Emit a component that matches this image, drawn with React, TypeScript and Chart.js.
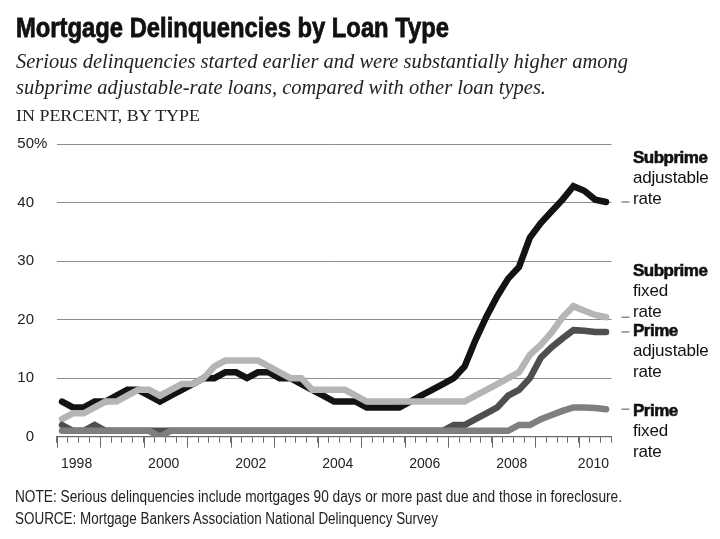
import React, { useEffect, useLayoutEffect, useRef } from 'react';
import { Chart, registerables } from 'chart.js';

Chart.register(...registerables);

// ---------- DATA ----------
const years = [1998, 1999, 2000, 2001, 2002, 2003, 2004, 2005, 2006, 2007, 2008, 2009, 2010];
const quarterNames = ['Q1', 'Q2', 'Q3', 'Q4'];
// 51 quarters: 1998 Q1 .. 2010 Q3
const quarterLabels = years.flatMap((y) => quarterNames.map((q) => `${y} ${q}`)).slice(0, 51);

const subprimeARM = [
  6, 5, 5, 6,
  6, 7, 8, 8,
  7, 6, 7, 8,
  9, 10, 10, 11,
  11, 10, 11, 11,
  10, 10, 9, 8,
  7, 6, 6, 6,
  5, 5, 5, 5,
  6, 7, 8, 9,
  10, 12, 16.5, 20.5,
  24, 27, 29, 34,
  36.5, 38.5, 40.5, 42.8,
  42, 40.5, 40.1,
];
const subprimeFixed = [
  3, 4, 4, 5,
  6, 6, 7, 8,
  8, 7, 8, 9,
  9, 10, 12, 13,
  13, 13, 13, 12,
  11, 10, 10, 8,
  8, 8, 8, 7,
  6, 6, 6, 6,
  6, 6, 6, 6,
  6, 6, 7, 8,
  9, 10, 11, 14,
  15.7, 17.8, 20.4, 22.3,
  21.5, 20.8, 20.4,
];
const primeARM = [
  2, 1, 1, 2,
  1, 1, 1, 1,
  1, 1, 1, 1,
  1, 1, 1, 1,
  1, 1, 1, 1,
  1, 1, 1, 1,
  1, 1, 1, 1,
  1, 1, 1, 1,
  1, 1, 1, 1,
  2, 2, 3, 4,
  5, 7, 8, 10,
  13.5, 15.3, 16.8, 18.2,
  18.1, 17.9, 17.9,
];
const primeFixed = [
  1, 1, 1, 1,
  1, 1, 1, 1,
  1, 0, 1, 1,
  1, 1, 1, 1,
  1, 1, 1, 1,
  1, 1, 1, 1,
  1, 1, 1, 1,
  1, 1, 1, 1,
  1, 1, 1, 1,
  1, 1, 1, 1,
  1, 1, 2, 2,
  3, 3.7, 4.4, 5,
  5, 4.9, 4.7,
];
const yTicks = [0, 10, 20, 30, 40, 50];
const yearLabels = ['1998', '2000', '2002', '2004', '2006', '2008', '2010'];

// ---------- STYLE ----------
const SANS = '"Liberation Sans", Arial, Helvetica, sans-serif';
const SERIF = '"Liberation Serif", "Times New Roman", serif';
const GRID = '#8c8c8c';
const AXIS = '#6a6a6a';
const LONG_TICK = 11;
const SHORT_TICK = 6;
const Y_PAD = 22.6;

const X_MIN = 1998;
const X_MAX = 2010.75;

function quarterToX(label: string): number {
  const [y, q] = label.split(' ');
  return Number(y) + (quarterNames.indexOf(q) + 0.5) / 4;
}

const labelTicks = yearLabels.map((t) => {
  const y = Number(t);
  const end = Math.min(y + 1, X_MAX);
  return { value: (y + end) / 2 - 0.04, text: t };
});
const isLabelTick = (v: number) => labelTicks.some((l) => Math.abs(l.value - v) < 1e-6);

function toPoints(values: number[]) {
  return quarterLabels.map((q, i) => ({ x: quarterToX(q), y: values[i] }));
}

const decorPlugin = {
  id: 'decor',
  afterDraw(chart: any) {
    const { ctx, chartArea, scales } = chart;
    const xs = scales.x;
    const ys = scales.y;
    ctx.save();
    // longer year ticks
    ctx.strokeStyle = AXIS;
    ctx.lineWidth = 1;
    for (let yr = Math.ceil(xs.min); yr <= xs.max + 1e-9; yr++) {
      const px = Math.round(xs.getPixelForValue(yr)) + 0.5;
      ctx.beginPath();
      ctx.moveTo(px, chartArea.bottom);
      ctx.lineTo(px, chartArea.bottom + LONG_TICK);
      ctx.stroke();
    }
    // hanging percent sign on top tick
    ctx.fillStyle = '#222';
    ctx.font = `15px ${SANS}`;
    ctx.textAlign = 'left';
    ctx.textBaseline = 'middle';
    ctx.fillText('%', chartArea.left - Y_PAD, ys.getPixelForValue(yTicks[yTicks.length - 1]));
    // connector dashes to labels
    ctx.strokeStyle = '#8a8a8a';
    ctx.lineWidth = 1.5;
    chart.data.datasets.forEach((ds: any) => {
      const last = ds.data[ds.data.length - 1];
      const py = ys.getPixelForValue(last.y);
      ctx.beginPath();
      ctx.moveTo(chartArea.right + 10, py);
      ctx.lineTo(chartArea.right + 18, py);
      ctx.stroke();
    });
    ctx.restore();
  },
};

function Fit({ width, style, children }: { width: number; style: React.CSSProperties; children: React.ReactNode }) {
  const ref = useRef<HTMLSpanElement>(null);
  useLayoutEffect(() => {
    const el = ref.current;
    if (!el) return;
    el.style.transform = 'none';
    const w = el.getBoundingClientRect().width;
    if (w > 0) el.style.transform = `scaleX(${width / w})`;
  });
  return (
    <span
      ref={ref}
      style={{ position: 'absolute', display: 'inline-block', whiteSpace: 'nowrap', transformOrigin: '0 0', ...style }}
    >
      {children}
    </span>
  );
}

function LegendBlock({ top, bold, lines }: { top: number; bold: string; lines: string[] }) {
  return (
    <div
      style={{
        position: 'absolute',
        left: 633,
        top,
        fontFamily: SANS,
        fontSize: 17,
        lineHeight: '20.3px',
        color: '#111',
        whiteSpace: 'nowrap',
      }}
    >
      <div style={{ fontWeight: 700, WebkitTextStroke: '0.6px #111', letterSpacing: '-0.5px' }}>{bold}</div>
      {lines.map((l) => (
        <div key={l} style={{ letterSpacing: '-0.2px' }}>{l}</div>
      ))}
    </div>
  );
}

export default function App() {
  const canvasRef = useRef<HTMLCanvasElement>(null);

  useEffect(() => {
    const canvas = canvasRef.current;
    if (!canvas) return;
    const mk = (label: string, values: number[], color: string, order: number) => ({
      label,
      data: toPoints(values),
      borderColor: color,
      backgroundColor: color,
      borderWidth: 6.5,
      pointRadius: 0,
      tension: 0,
      borderCapStyle: 'round' as const,
      borderJoinStyle: 'miter' as const,
      fill: false,
      order,
    });
    const chart = new Chart(canvas, {
      type: 'line',
      data: {
        datasets: [
          mk('Subprime adjustable rate', subprimeARM, '#131313', 4),
          mk('Subprime fixed rate', subprimeFixed, '#b5b5b5', 3),
          mk('Prime adjustable rate', primeARM, '#4e4e4e', 2),
          mk('Prime fixed rate', primeFixed, '#7f7f7f', 1),
        ],
      },
      options: {
        responsive: false,
        devicePixelRatio: 1,
        animation: false,
        events: [],
        layout: { padding: { top: 144, left: 0, right: 108.5, bottom: 62.3 } },
        plugins: { legend: { display: false }, tooltip: { enabled: false }, title: { display: false } },
        scales: {
          x: {
            type: 'linear',
            min: X_MIN,
            max: X_MAX,
            afterFit: (s: any) => {
              s.height = 40;
            },
            afterBuildTicks: (s: any) => {
              const ticks: { value: number }[] = [];
              for (let v = X_MIN; v <= X_MAX + 1e-9; v += 0.25) ticks.push({ value: v });
              labelTicks.forEach((l) => ticks.push({ value: l.value }));
              ticks.sort((a, b) => a.value - b.value);
              s.ticks = ticks;
            },
            grid: {
              drawOnChartArea: false,
              drawTicks: true,
              tickLength: SHORT_TICK,
              tickWidth: 1,
              color: AXIS,
              tickColor: (c: any) => (c.tick && isLabelTick(c.tick.value) ? 'rgba(0,0,0,0)' : AXIS),
            },
            border: { display: true, color: AXIS, width: 1.2 },
            ticks: {
              autoSkip: false,
              maxRotation: 0,
              minRotation: 0,
              padding: 13,
              color: '#222',
              font: { family: SANS, size: 14 },
              callback: (v: any) => {
                const l = labelTicks.find((t) => Math.abs(t.value - Number(v)) < 1e-6);
                return l ? l.text : '';
              },
            },
          },
          y: {
            type: 'linear',
            min: 0,
            max: 50,
            afterFit: (s: any) => {
              s.width = 56.6;
            },
            afterBuildTicks: (s: any) => {
              s.ticks = yTicks.map((v) => ({ value: v }));
            },
            grid: { color: GRID, lineWidth: 1, drawTicks: false, tickLength: 0 },
            border: { display: false },
            ticks: {
              padding: Y_PAD,
              color: '#222',
              font: { family: SANS, size: 15 },
              callback: (v: any) => String(v),
            },
          },
        },
      },
      plugins: [decorPlugin],
    } as any);
    return () => chart.destroy();
  }, []);

  return (
    <div
      style={{
        position: 'absolute',
        left: 0,
        top: 0,
        width: 720,
        height: 539,
        background: '#fff',
        overflow: 'hidden',
      }}
    >
      <canvas ref={canvasRef} width={720} height={539} style={{ position: 'absolute', left: 0, top: 0, width: 720, height: 539 }} />
      <Fit
        width={433}
        style={{ left: 16, top: 13.5, fontFamily: SANS, fontWeight: 700, fontSize: 28, lineHeight: '28px', color: '#111', WebkitTextStroke: '0.8px #111' }}
      >
        Mortgage Delinquencies by Loan Type
      </Fit>
      <Fit
        width={612}
        style={{ left: 16, top: 47.8, fontFamily: SERIF, fontStyle: 'italic', fontSize: 21, lineHeight: '26px', color: '#222' }}
      >
        Serious delinquencies started earlier and were substantially higher among
      </Fit>
      <Fit
        width={530}
        style={{ left: 16, top: 73.8, fontFamily: SERIF, fontStyle: 'italic', fontSize: 21, lineHeight: '26px', color: '#222' }}
      >
        subprime adjustable-rate loans, compared with other loan types.
      </Fit>
      <Fit
        width={184}
        style={{ left: 16, top: 106.3, fontFamily: SERIF, fontSize: 16, lineHeight: '20px', color: '#222' }}
      >
        IN PERCENT, BY TYPE
      </Fit>

      <LegendBlock top={148} bold="Subprime" lines={['adjustable', 'rate']} />
      <LegendBlock top={261} bold="Subprime" lines={['fixed', 'rate']} />
      <LegendBlock top={321} bold="Prime" lines={['adjustable', 'rate']} />
      <LegendBlock top={401} bold="Prime" lines={['fixed', 'rate']} />

      <Fit
        width={607}
        style={{ left: 15, top: 486, fontFamily: SANS, fontSize: 16, lineHeight: '21px', color: '#222' }}
      >
        NOTE: Serious delinquencies include mortgages 90 days or more past due and those in foreclosure.
      </Fit>
      <Fit
        width={423}
        style={{ left: 15, top: 507.5, fontFamily: SANS, fontSize: 16, lineHeight: '21px', color: '#222' }}
      >
        SOURCE: Mortgage Bankers Association National Delinquency Survey
      </Fit>
    </div>
  );
}
